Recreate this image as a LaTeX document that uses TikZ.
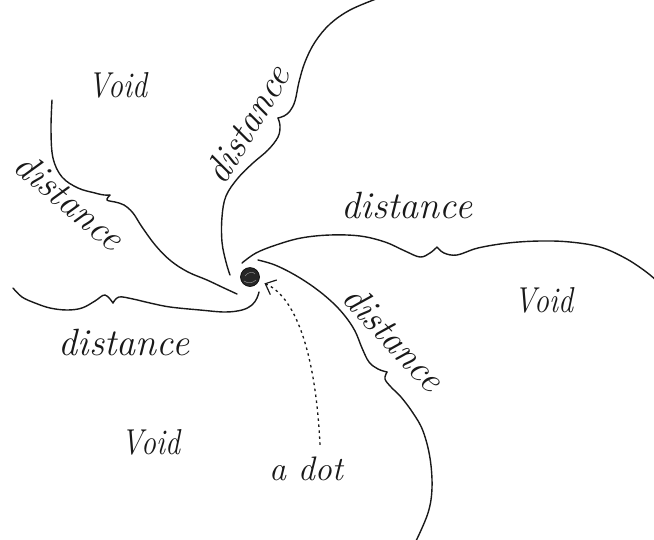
\documentclass[tikz,border=0pt]{standalone}
\usetikzlibrary{arrows.meta,calc}
\begin{document}
\begin{tikzpicture}[x=1pt,y=-1pt,
  curve/.style={line width=1.4pt, black!90, line cap=round, line join=round},
  hand/.style={inner sep=0pt, black!90, font=\fontsize{38}{40}\selectfont\itshape},
  voidlbl/.style={inner sep=0pt, black!90, font=\fontsize{36}{40}\selectfont\itshape},
  pointer/.style={line width=1.3pt, black!90, dash pattern=on 2.5pt off 3.5pt,
    -{Straight Barb[length=9pt,width=16pt,line width=1.2pt]}}
]
\useasboundingbox (0,0) rectangle (654,539);

% curve A (upper left)
\draw[curve] plot[smooth,tension=0.6] coordinates {(52,100) (51,130) (53,158) (62,177) (78,188) (95,193) (104,195) (110,195)};
\draw[curve] plot[smooth,tension=0.6] coordinates {(110,195) (107,200) (115,202) (124,205) (133,213) (142,227) (156,246) (171,261) (188,272) (207,280) (224,288) (237,294)};

% curve B (top)
\draw[curve] plot[smooth,tension=0.6] coordinates {(376,-1) (350,10) (330,24) (315,42) (305,62) (299,82) (295,101) (290,111) (284,116) (278,118)};
\draw[curve] plot[smooth,tension=0.6] coordinates {(278,118) (280,126) (278,137) (268,150) (253,163) (238,178) (226,196) (222,217) (222,242) (226,262) (230,275)};

% curve C (right)
\draw[curve] plot[smooth,tension=0.6] coordinates {(242,263) (256,253) (276,245) (301,238) (330,235) (360,236) (385,242) (405,251) (420,257) (430,253) (437,247)};
\draw[curve] plot[smooth,tension=0.6] coordinates {(437,247) (444,253) (457,255) (478,248) (508,243) (540,241) (570,242) (600,247) (625,258) (645,271) (657,281)};

% curve D (lower right)
\draw[curve] plot[smooth,tension=0.6] coordinates {(258,260) (275,265) (295,275) (315,288) (332,302) (345,316) (355,331) (362,348) (369,362) (378,369) (387,372)};
\draw[curve] plot[smooth,tension=0.6] coordinates {(387,372) (385,379) (391,387) (401,397) (413,413) (423,431) (430,458) (432,488) (428,513) (416,541)};

% curve E (lower left)
\draw[curve] plot[smooth,tension=0.6] coordinates {(13,288) (22,297) (35,303) (50,308) (67,310) (82,308) (95,301) (105,295) (113,303)};
\draw[curve] plot[smooth,tension=0.6] coordinates {(113,303) (119,297) (133,299) (150,303) (170,307) (200,310) (225,312) (242,310) (252,305) (257,298) (259,292)};

% the dot
\node[circle, fill=black!85, draw=black, line width=0.6pt, minimum size=19pt, inner sep=0pt] (dot) at (250,277) {};
\draw[white!55!black, line width=0.5pt] (245,276) .. controls (248,272) and (253,271) .. (255,274);
\draw[white!55!black, line width=0.5pt] (244,281) .. controls (248,284) and (253,283) .. (256,280);

% labels
\node[voidlbl] (void1) at (118,85) {\scalebox{0.83}[1]{Void}};
\node[voidlbl] (void2) at (544,300) {\scalebox{0.83}[1]{Void}};
\node[voidlbl] (void3) at (151,442) {\scalebox{0.83}[1]{Void}};
\node[hand] (dist1) at (70,201) [rotate=-40] {distance};
\node[hand] (dist2) at (247,124) [rotate=59] {distance};
\node[hand] (dist3) at (407,205) {distance};
\node[hand] (dist4) at (394,338) [rotate=-47] {distance};
\node[hand] (dist5) at (124,342) {distance};
\node[hand, font=\fontsize{34}{38}\selectfont\itshape] (adot) at (306,469) {a dot};

% pointer
\draw[pointer, shorten >=6pt] ([xshift=14pt,yshift=12pt]adot.north) .. controls (316,360) and (298,298) .. (dot);
\end{tikzpicture}
\end{document}
